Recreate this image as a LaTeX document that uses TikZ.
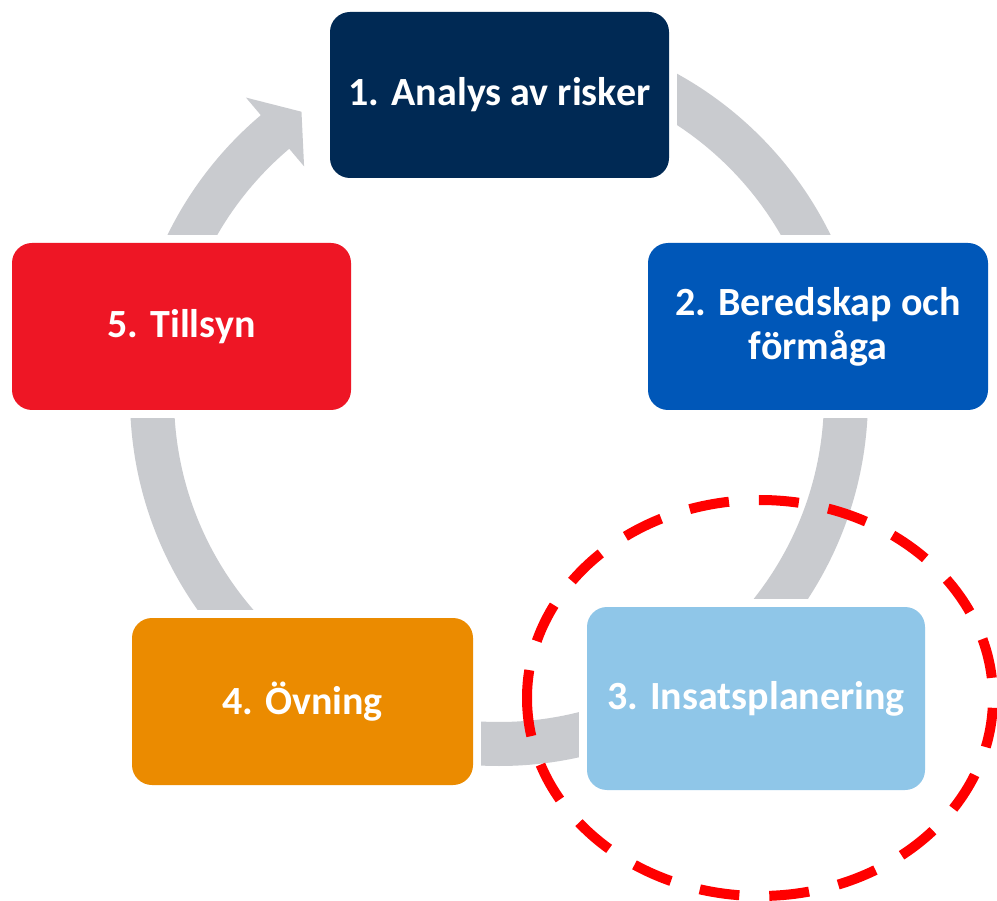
\documentclass[tikz,border=0pt]{standalone}
\usepackage{fontspec}
\setmainfont{Carlito}
\usetikzlibrary{calc}
\definecolor{cA}{RGB}{0,41,84}
\definecolor{cB}{RGB}{0,87,184}
\definecolor{cC}{RGB}{143,198,232}
\definecolor{cD}{RGB}{235,139,0}
\definecolor{cE}{RGB}{238,22,37}
\definecolor{ringgrey}{RGB}{201,203,207}
\definecolor{ovalred}{RGB}{255,0,0}
\pgfdeclarelayer{bglayer}
\pgfdeclarelayer{ringlayer}
\pgfdeclarelayer{halolayer}
\pgfsetlayers{bglayer,ringlayer,halolayer,main}
\begin{document}
\begin{tikzpicture}[x=1pt,y=-1pt,
  stepbox/.style={rectangle, rounded corners=20pt, text=white,
    font=\fontsize{40}{44}\selectfont\bfseries, align=center, inner sep=0pt},
  ringband/.style={draw=ringgrey, line width=44pt},
  arrowtip/.style={fill=ringgrey},
  halo/.style={fill=white},
  focusoval/.style={draw=ovalred, line width=10pt, dash pattern=on 40pt off 30pt, dash phase=12pt}]
\useasboundingbox (0,0) rectangle (997,901);
\begin{pgfonlayer}{bglayer}
  \fill[white] (0,0) rectangle (997,901);
\end{pgfonlayer}
\coordinate (C) at (499,397);
% boxes
\node[stepbox, fill=cA, minimum width=339pt, minimum height=166pt] (n1) at (499.5,95) {1. Analys av risker};
\node[stepbox, fill=cB, minimum width=340pt, minimum height=167pt] (n2) at (818,326.5) {2. Beredskap och\\förmåga};
\node[stepbox, fill=cC, minimum width=338pt, minimum height=183pt] (n3) at (756,698.5) {3. Insatsplanering};
\node[stepbox, fill=cD, minimum width=341pt, minimum height=167pt] (n4) at (302.5,701.5) {4. Övning};
\node[stepbox, fill=cE, minimum width=339pt, minimum height=167pt] (n5) at (181.5,326.5) {5. Tillsyn};
% ring
\begin{pgfonlayer}{ringlayer}
  \draw[ringband] (C) ++(270:347) arc[start angle=270, end angle=590.0, radius=347];
  \fill[arrowtip] ($(C)+(229.8:392)$) -- ($(C)+(235.3:347)$) -- ($(C)+(229.8:302)$) -- cycle;
\end{pgfonlayer}
% white margins round the boxes
\begin{pgfonlayer}{halolayer}
  \foreach \n in {n1,n2,n3,n4,n5}
    \fill[halo] ([shift={(-8pt,-8pt)}]\n.south west) rectangle ([shift={(8pt,8pt)}]\n.north east);
\end{pgfonlayer}
% dashed focus oval
\draw[focusoval] (760,698) ++(180:233 and 198) arc[start angle=180, end angle=540, x radius=233, y radius=198];
\end{tikzpicture}
\end{document}
